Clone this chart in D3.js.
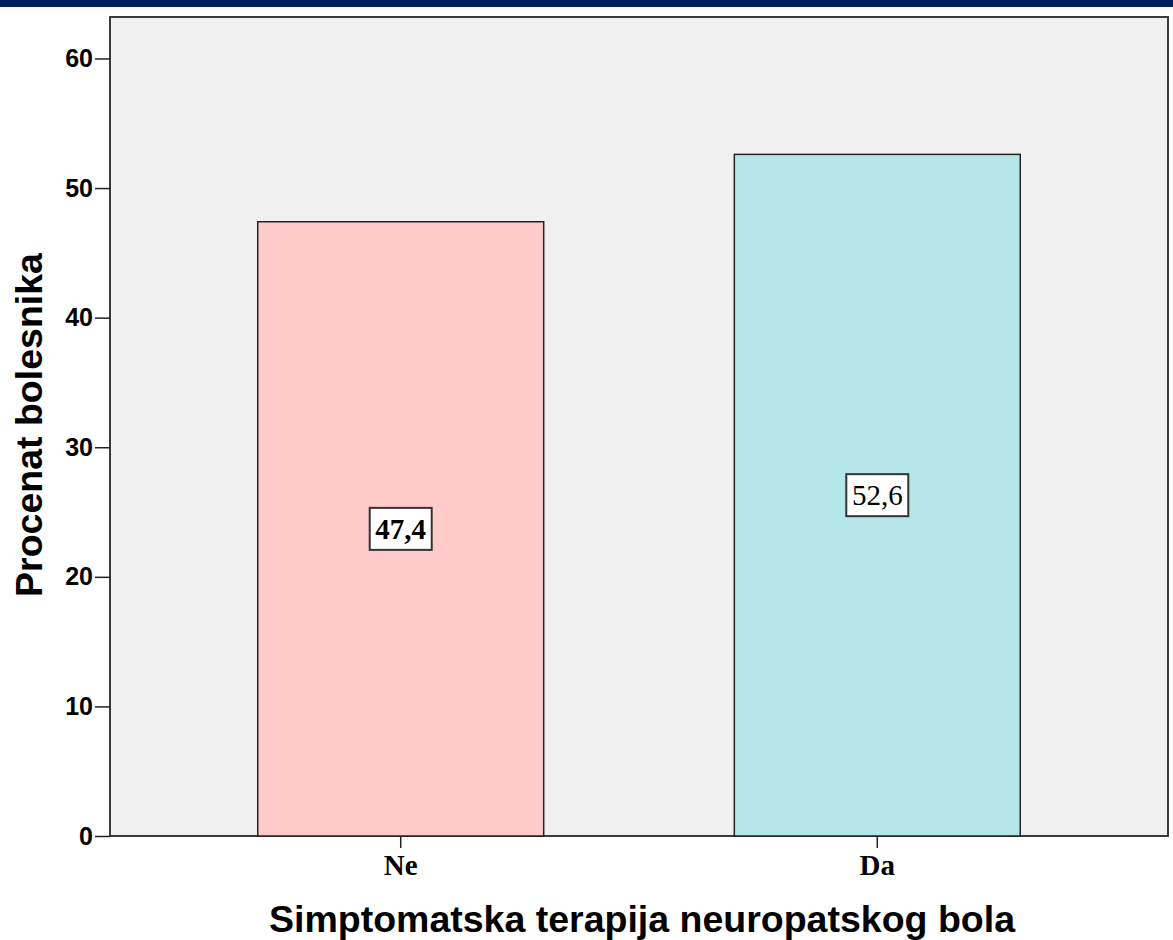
<!DOCTYPE html>
<html>
<head>
<meta charset="utf-8">
<script src="https://cdn.jsdelivr.net/npm/d3@7"></script>
<style>
  body { margin: 0; background: #fff; }
  svg { display: block; }
</style>
</head>
<body>
<div id="chart"></div>
<script>
// chart values
var categories = ["Ne", "Da"];
var percents = [47.4, 52.6];
var labels = ["47,4", "52,6"];
var yTicks = [0, 10, 20, 30, 40, 50, 60];
var barColors = ["#ffcaca", "#b4e6e8"];

var width = 1173, height = 940;
// plot box (note: "top" is a reserved window name, so use m*)
var mLeft = 110, mRight = 1168, mTop = 17, mBottom = 836;

var svg = d3.select("#chart").append("svg")
  .attr("width", width)
  .attr("height", height);

// navy strip across the top
svg.append("rect")
  .attr("x", 0).attr("y", 0)
  .attr("width", width).attr("height", 7)
  .attr("fill", "#002060");

var x = d3.scaleBand().domain(categories).range([mLeft, mRight])
  .paddingInner(0.4).paddingOuter(0.31);
var y = d3.scaleLinear().domain([0, 63.2]).range([mBottom, mTop]);

// plot background + frame
svg.append("rect")
  .attr("x", mLeft).attr("y", mTop)
  .attr("width", mRight - mLeft).attr("height", mBottom - mTop)
  .attr("fill", "#f0f0f0")
  .attr("stroke", "#3a3a3a")
  .attr("stroke-width", 2);

// bars
svg.selectAll("rect.bar").data(percents).enter().append("rect")
  .attr("class", "bar")
  .attr("x", function(d, i) { return x(categories[i]); })
  .attr("y", function(d) { return y(d); })
  .attr("width", x.bandwidth())
  .attr("height", function(d) { return y(0) - y(d); })
  .attr("fill", function(d, i) { return barColors[i]; })
  .attr("stroke", "#222")
  .attr("stroke-width", 1.5);

// value labels in boxes
var lab = svg.selectAll("g.lab").data(percents).enter().append("g")
  .attr("class", "lab")
  .attr("transform", function(d, i) {
    return "translate(" + (x(categories[i]) + x.bandwidth() / 2) + "," + ((y(d) + y(0)) / 2) + ")";
  });
lab.append("rect")
  .attr("x", -31).attr("y", -21)
  .attr("width", 62).attr("height", 42)
  .attr("fill", "#fff")
  .attr("stroke", "#333")
  .attr("stroke-width", 2);
lab.append("text")
  .attr("text-anchor", "middle")
  .attr("dy", "0.35em")
  .attr("font-family", "Liberation Serif, serif")
  .attr("font-size", 29)
  .attr("font-weight", function(d, i) { return i === 0 ? "bold" : "normal"; })
  .text(function(d, i) { return labels[i]; });

// y axis
var yAxis = d3.axisLeft(y).tickValues(yTicks).tickSize(15).tickPadding(2);
var gy = svg.append("g").attr("transform", "translate(" + mLeft + ",0)").call(yAxis);
gy.select(".domain").remove();
gy.selectAll(".tick line").attr("stroke", "#222").attr("stroke-width", 1.5);
gy.selectAll(".tick text")
  .attr("font-family", "Liberation Sans, Arial, sans-serif")
  .attr("font-size", 25)
  .attr("font-weight", "bold")
  .attr("fill", "#000");

// x axis
var xAxis = d3.axisBottom(x).tickSize(12).tickPadding(6);
var gx = svg.append("g").attr("transform", "translate(0," + mBottom + ")").call(xAxis);
gx.select(".domain").remove();
gx.selectAll(".tick line").attr("stroke", "#222").attr("stroke-width", 1.5);
gx.selectAll(".tick text")
  .attr("font-family", "Liberation Serif, serif")
  .attr("font-size", 29)
  .attr("font-weight", "bold")
  .attr("fill", "#000");

// axis titles
svg.append("text")
  .attr("x", (mLeft + mRight) / 2 + 3).attr("y", 932)
  .attr("text-anchor", "middle")
  .attr("font-family", "Liberation Sans, Arial, sans-serif")
  .attr("font-size", 37.5)
  .attr("font-weight", "bold")
  .text("Simptomatska terapija neuropatskog bola");

svg.append("text")
  .attr("transform", "translate(42," + 425 + ") rotate(-90)")
  .attr("text-anchor", "middle")
  .attr("font-family", "Liberation Sans, Arial, sans-serif")
  .attr("font-size", 37.5)
  .attr("font-weight", "bold")
  .text("Procenat bolesnika");
</script>
</body>
</html>
